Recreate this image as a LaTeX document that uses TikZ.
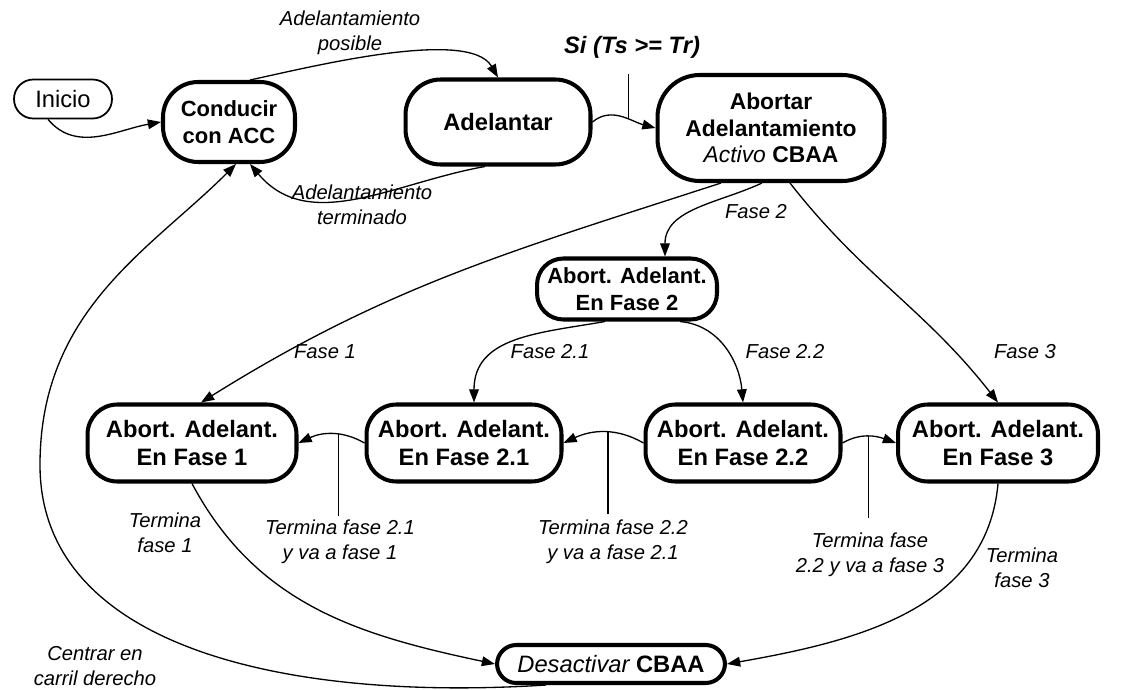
\documentclass[tikz,border=0pt]{standalone}
\usepackage{fontspec}
\setmainfont{Liberation Sans}
\usetikzlibrary{arrows.meta}
\begin{document}
\begin{tikzpicture}[x=0.02cm,y=0.02cm,
  state/.style={draw, line width=2.3pt, rectangle, align=center, inner sep=0pt,
    font=\fontsize{13.5}{15.5}\selectfont\bfseries},
  lbl/.style={align=center, font=\fontsize{11.5}{14}\selectfont\itshape},
  arr/.style={line width=0.75pt, -{Triangle[length=7.5pt,width=5.5pt]}},
  tickline/.style={line width=0.75pt}]
\useasboundingbox (0,0) rectangle (1137,-690);
% nodes
\node[draw, line width=1pt, rounded corners=11pt, minimum width=1.96cm, minimum height=0.78cm,
  font=\fontsize{13.5}{15.5}\selectfont] (ini) at (63,-99) {Inicio};
\node[state, rounded corners=20pt, minimum width=2.64cm, minimum height=1.6cm,
  font=\fontsize{12.5}{15.5}\selectfont\bfseries] (cond) at (229,-122) {Conducir\\con ACC};
\node[state, rounded corners=20pt, minimum width=3.7cm, minimum height=1.7cm] (adel) at (498,-122) {Adelantar};
\node[state, rounded corners=24pt, minimum width=4.54cm, minimum height=2.12cm,
  font=\fontsize{13}{15}\selectfont\bfseries] (abor) at (771,-128) {Abortar\\Adelantamiento\\{\mdseries\itshape Activo} CBAA};
\node[state, rounded corners=15pt, minimum width=3.6cm, minimum height=1.22cm,
  font=\fontsize{12.5}{15}\selectfont\bfseries] (f2) at (627,-289) {Abort. Adelant.\\En Fase 2};
\node[state, rounded corners=17pt, minimum width=4.18cm, minimum height=1.54cm] (f1) at (192,-443) {Abort. Adelant.\\En Fase 1};
\node[state, rounded corners=17pt, minimum width=3.9cm, minimum height=1.54cm] (f21) at (464,-443) {Abort. Adelant.\\En Fase 2.1};
\node[state, rounded corners=17pt, minimum width=3.9cm, minimum height=1.54cm] (f22) at (743,-443) {Abort. Adelant.\\En Fase 2.2};
\node[state, rounded corners=17pt, minimum width=4.0cm, minimum height=1.54cm] (f3) at (998,-443) {Abort. Adelant.\\En Fase 3};
\node[state, rounded corners=11pt, minimum width=4.56cm, minimum height=0.76cm] (des) at (611,-664) {{\mdseries\itshape Desactivar} CBAA};
\coordinate (cb) at (40,-465);
% connectors
\draw[arr] ([xshift=-0.3cm]ini.south) to[out=-50,in=190] (cond.west);
\draw[arr] ([xshift=0.42cm]cond.north) to[out=12,in=120,looseness=0.6] (adel.north);
\draw[arr] ([xshift=-0.26cm]adel.south) to[out=190,in=-50] ([xshift=0.42cm]cond.south);
\draw[arr] (adel.east) to[out=40,in=165] coordinate[pos=0.6] (t0) (abor.west);
\draw[tickline] (t0) -- ++(0,45);
\draw[arr] ([xshift=-1.0cm]abor.south) to[out=198,in=32] ([xshift=0.18cm]f1.north);
\draw[arr] ([xshift=-0.18cm]abor.south) to[out=205,in=90] ([xshift=0.76cm]f2.north);
\draw[arr] ([xshift=0.38cm]abor.south) to[out=-52,in=128] (f3.north);
\draw[arr] ([xshift=-0.44cm]f2.south) to[out=190,in=90,looseness=1.1] ([xshift=0.2cm]f21.north);
\draw[arr] ([xshift=1.06cm]f2.south) to[out=-5,in=95] (f22.north);
\draw[arr] (f21.west) to[out=150,in=25] coordinate[pos=0.4] (t1) (f1.east);
\draw[tickline] (t1) -- ++(0,-82);
\draw[arr] (f22.west) to[out=150,in=25] coordinate[pos=0.45] (t2) (f21.east);
\draw[tickline] (t2) -- ++(0,-82);
\draw[arr] (f22.east) to[out=30,in=160] coordinate[pos=0.5] (t3) (f3.west);
\draw[tickline] (t3) -- ++(0,-82);
\draw[arr] (f1.south) to[out=-62,in=168] (des.west);
\draw[arr] (f3.south) to[out=-95,in=10] (des.east);
\draw[arr] ([xshift=-1.3cm]des.south) .. controls (280,-702) and (40,-645) .. (cb)
  .. controls (40,-310) and (150,-250) .. ([xshift=0.14cm]cond.south);
% labels
\node[lbl] (l1) at (350,-33) {Adelantamiento\\posible};
\node[lbl] (l2) at (362,-205) {Adelantamiento\\terminado};
\node[font=\fontsize{13.5}{15}\selectfont\bfseries\itshape] (l3) at (632,-47) {Si (Ts >= Tr)};
\node[lbl] (l4) at (756,-212) {Fase 2};
\node[lbl] (l5) at (325,-352) {Fase 1};
\node[lbl] (l6) at (550,-352) {Fase 2.1};
\node[lbl] (l7) at (785,-352) {Fase 2.2};
\node[lbl] (l8) at (1025,-352) {Fase 3};
\node[lbl] (l9) at (165,-533) {Termina\\fase 1};
\node[lbl] (l10) at (340,-542) {Termina fase 2.1\\y va a fase 1};
\node[lbl] (l11) at (613,-542) {Termina fase 2.2\\y va a fase 2.1};
\node[lbl] (l12) at (870,-555) {Termina fase\\2.2 y va a fase 3};
\node[lbl] (l13) at (1022,-568) {Termina\\fase 3};
\node[lbl] (l14) at (95,-666) {Centrar en\\carril derecho};
\end{tikzpicture}
\end{document}
